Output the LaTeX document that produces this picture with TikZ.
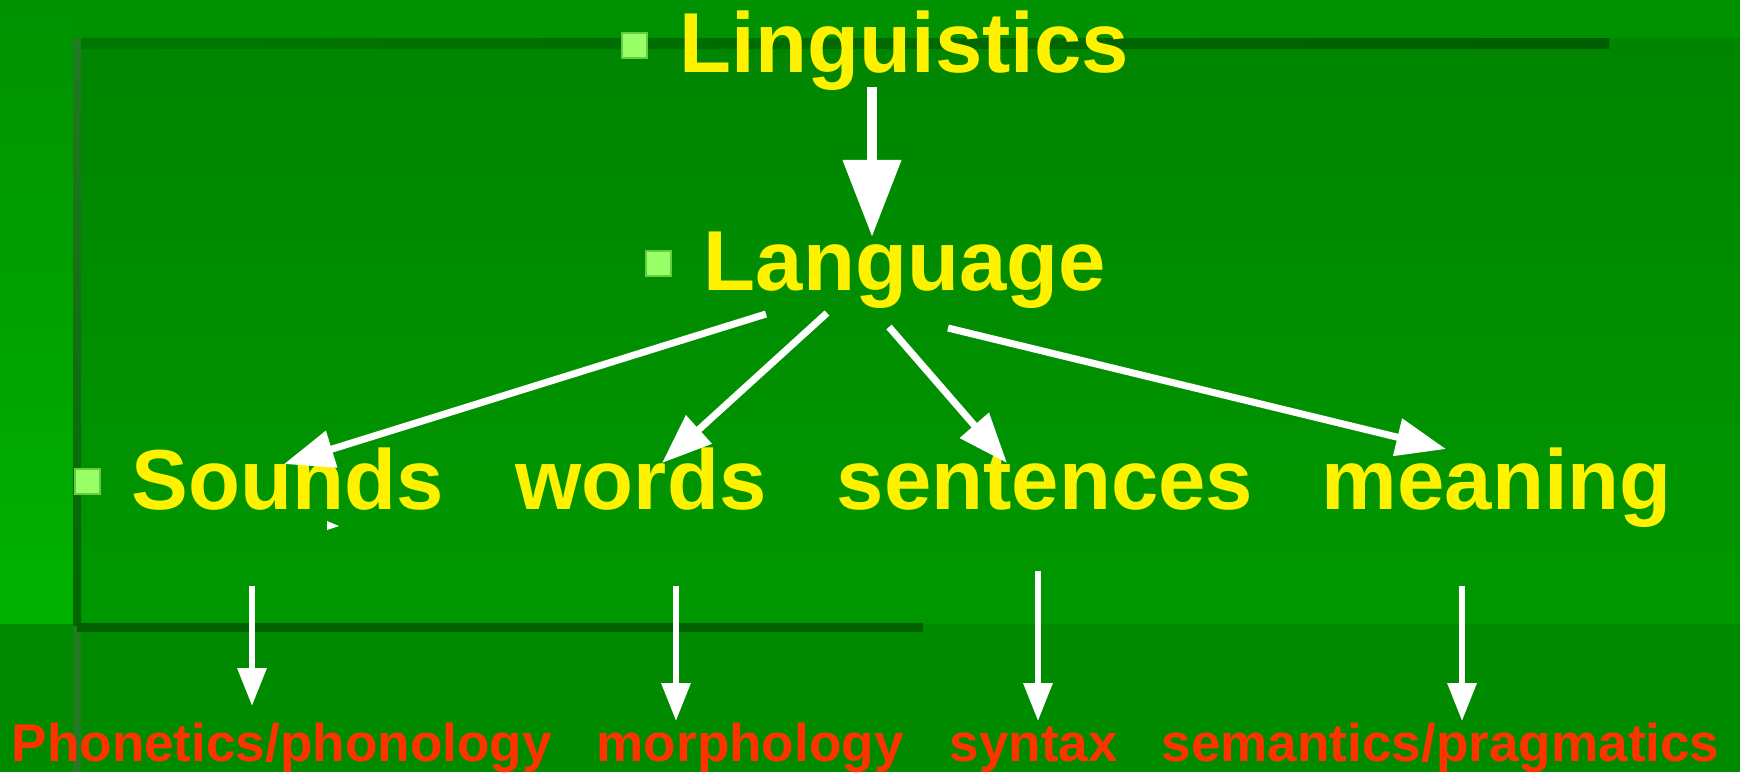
\documentclass[tikz,border=0pt]{standalone}
\usepackage{fontspec}
\setmainfont{Liberation Sans}
\usetikzlibrary{arrows.meta}
\definecolor{topband}{HTML}{009100}
\definecolor{stripbot}{HTML}{00B200}
\definecolor{paneltop}{HTML}{008500}
\definecolor{panelbot}{HTML}{009800}
\definecolor{lowerfill}{HTML}{008A00}
\definecolor{rulelight}{HTML}{007800}
\definecolor{ruledark}{HTML}{005C00}
\definecolor{edgegray}{HTML}{227A22}
\definecolor{edgedark}{HTML}{006600}
\definecolor{lowrule}{HTML}{006000}
\definecolor{bulletgreen}{HTML}{99FF66}
\definecolor{bulletedge}{HTML}{66CC44}
\definecolor{subred}{HTML}{FF3300}
\begin{document}
\begin{tikzpicture}[x=0.01cm,y=-0.01cm,
  word/.style={anchor=base west,inner sep=0pt,text=yellow,font=\bfseries\fontsize{24.2pt}{29pt}\selectfont},
  sub/.style={anchor=base west,inner sep=0pt,text=subred,font=\bfseries\fontsize{15.1pt}{18pt}\selectfont},
  bullet/.style={fill=bulletgreen,draw=bulletedge,line width=0.3pt,minimum size=0.25cm,inner sep=0pt},
  bigarr/.style={draw=white,line width=3.1pt,-{Triangle[length=21.9pt,width=15.9pt]}},
  midarr/.style={draw=white,line width=2pt,-{Triangle[length=14.2pt,width=10.5pt]}},
  smallarr/.style={draw=white,line width=1.7pt,-{Triangle[length=10.8pt,width=8pt]}}]
\useasboundingbox (0,0) rectangle (1740,772);
% background
\fill[topband] (0,0) rectangle (1740,772);
\shade[top color=topband,bottom color=stripbot] (0,0) rectangle (73,626);
\shade[top color=paneltop,bottom color=panelbot] (77,38) rectangle (1740,624);
\fill[lowerfill] (0,624) rectangle (1740,772);
\shade[left color=rulelight,right color=ruledark] (77,38) rectangle (1609,48);
\shade[top color=edgegray,bottom color=edgedark] (73,38) rectangle (81,626);
\fill[edgegray] (73,626) rectangle (81,772);
\fill[lowrule] (77,623) rectangle (923,632);
% bullets
\node[bullet] (b1) at (634.5,45.5) {};
\node[bullet] (b2) at (658.5,263.5) {};
\node[bullet] (b3) at (87.5,481.5) {};
% texts
\node[word] (ling) at (679,72) {Linguistics};
\node[word] (lang) at (703,290) {Language};
\node[word] (sounds) at (131,509) {Sounds};
\node[word] (words) at (515,509) {words};
\node[word] (sent) at (836,509) {sentences};
\node[word] (mean) at (1321,509) {meaning};
\node[sub] (phon) at (11,761) {Phonetics/phonology};
\node[sub] (morph) at (596,761) {morphology};
\node[sub] (synt) at (949,761) {syntax};
\node[sub] (sem) at (1161,761) {semantics/pragmatics};
% connector ends
\coordinate (lingout) at (872,87);
\coordinate (langin) at (872,237);
\coordinate (langA) at (766,314);
\coordinate (langB) at (827,313);
\coordinate (langC) at (889,327);
\coordinate (langD) at (948,328);
\coordinate (soundsin) at (284,464);
\coordinate (wordsin) at (662,463);
\coordinate (sentin) at (1007,463);
\coordinate (meanin) at (1446,449);
\coordinate (soundsout) at (252,586);
\coordinate (phonin) at (252,706);
\coordinate (wordsout) at (676,586);
\coordinate (morphin) at (676,721);
\coordinate (sentout) at (1038,571);
\coordinate (syntin) at (1038,721);
\coordinate (meanout) at (1462,586);
\coordinate (semin) at (1462,721);
% connectors
\draw[bigarr] (lingout) -- (langin);
\draw[midarr] (langA) -- (soundsin);
\draw[midarr] (langB) -- (wordsin);
\draw[midarr] (langC) -- (sentin);
\draw[midarr] (langD) -- (meanin);
\draw[smallarr] (soundsout) -- (phonin);
\draw[smallarr] (wordsout) -- (morphin);
\draw[smallarr] (sentout) -- (syntin);
\draw[smallarr] (meanout) -- (semin);
% stray small arrowhead
\fill[white] (327,521) -- (339,526) -- (327,530) -- cycle;
\end{tikzpicture}
\end{document}
